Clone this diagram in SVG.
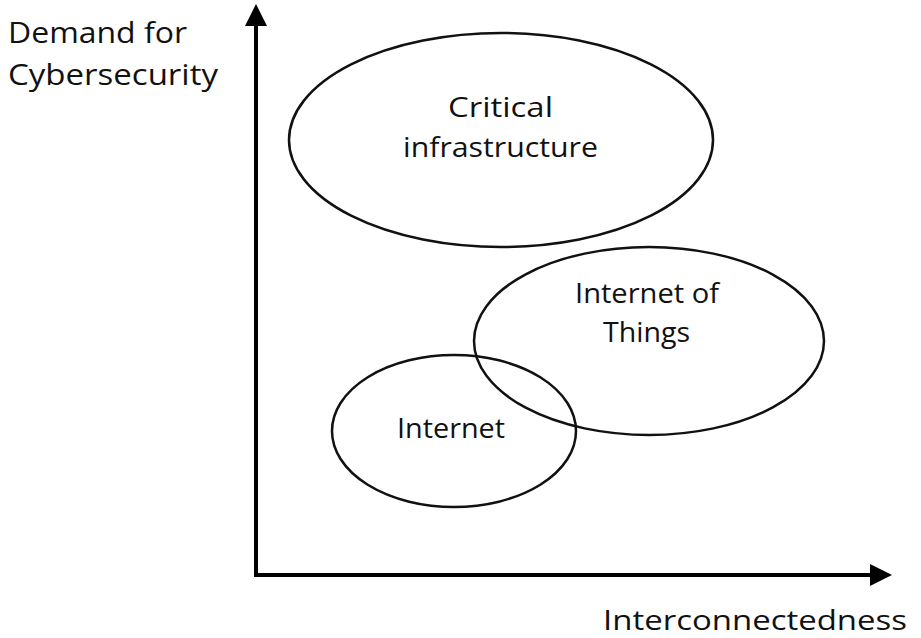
<svg xmlns="http://www.w3.org/2000/svg" width="921" height="638" viewBox="0 0 921 638">
<style>
text{font-family:"Open Sans","Noto Sans","DejaVu Sans",sans-serif;font-size:28px;fill:#111}
.big{font-size:30px}
.e{fill:none;stroke:#111;stroke-width:2.5}
.ax{fill:none;stroke:#000;stroke-width:4}
</style>
<rect width="921" height="638" fill="#fff"/>
<g id="connectors">
<path class="ax" d="M256,25 L256,575 L870,575"/>
<path d="M256,4 L245,26 L267,26 Z" fill="#000"/>
<path d="M892,575 L870,564 L870,586 Z" fill="#000"/>
</g>
<g id="axis-y-label">
<text class="big" x="8" y="43" textLength="179" lengthAdjust="spacingAndGlyphs">Demand for</text>
<text class="big" x="8" y="85" textLength="210" lengthAdjust="spacingAndGlyphs">Cybersecurity</text>
</g>
<g id="axis-x-label">
<text x="603" y="630" textLength="304" lengthAdjust="spacingAndGlyphs">Interconnectedness</text>
</g>
<g id="critical-infrastructure">
<ellipse class="e" cx="501" cy="140" rx="212" ry="107"/>
<text x="448" y="117" textLength="105" lengthAdjust="spacingAndGlyphs">Critical</text>
<text x="403" y="157" textLength="195" lengthAdjust="spacingAndGlyphs">infrastructure</text>
</g>
<g id="internet-of-things">
<ellipse class="e" cx="649" cy="341" rx="175" ry="94"/>
<text x="575" y="303" textLength="144" lengthAdjust="spacingAndGlyphs">Internet of</text>
<text x="603" y="342" textLength="87" lengthAdjust="spacingAndGlyphs">Things</text>
</g>
<g id="internet">
<ellipse class="e" cx="454" cy="431" rx="122" ry="76"/>
<text x="397" y="438" textLength="108" lengthAdjust="spacingAndGlyphs">Internet</text>
</g>
</svg>
